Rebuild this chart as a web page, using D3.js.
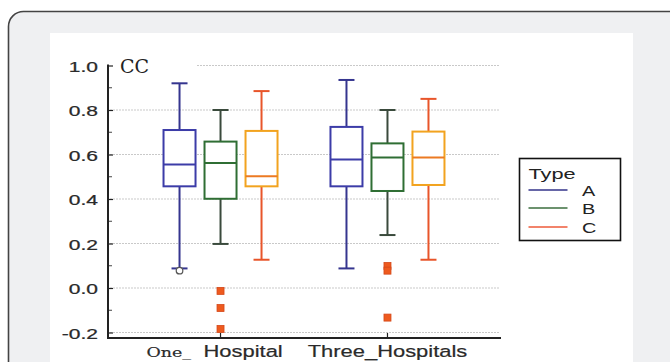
<!DOCTYPE html>
<html>
<head>
<meta charset="utf-8">
<script src="https://cdn.jsdelivr.net/npm/d3@7"></script>
<style>
  body { margin: 0; background: #fff; }
  svg { display: block; }
</style>
</head>
<body>
<svg id="chart" width="670" height="362"></svg>
<script>
// data
var groups = ["One_ Hospital", "Three_Hospitals"];
var types = ["A", "B", "C"];
var yTicks = [-0.2, 0.0, 0.2, 0.4, 0.6, 0.8, 1.0];

// [whiskerLow, q1, median, q3, whiskerHigh] per type, per group
var statsA = [[0.088, 0.457, 0.555, 0.71, 0.92], [0.088, 0.457, 0.577, 0.724, 0.935]];
var statsB = [[0.198, 0.401, 0.562, 0.658, 0.80], [0.238, 0.436, 0.586, 0.65, 0.80]];
var statsC = [[0.127, 0.457, 0.502, 0.706, 0.885], [0.127, 0.463, 0.587, 0.703, 0.85]];
var outliersA = [[0.078], []];
var outliersB = [[-0.013, -0.09, -0.184], [0.099, 0.078, -0.133]];
var outliersC = [[], []];

var boxColor = { A: "#3c3ca8", B: "#2f6e34", C: "#f2a31f" };
var whiskColor = { A: "#35358f", B: "#3a4a3c", C: "#e8552a" };
var legendColor = { A: "#33338a", B: "#3b6e3e", C: "#ee5a3a" };

var sans = "Liberation Sans, Arial, sans-serif";
var serif = "DejaVu Serif, Liberation Serif, serif";

var svg = d3.select("#chart");

// frame
svg.append("rect").attr("x", 8.5).attr("y", 11.5).attr("width", 700).attr("height", 400)
  .attr("rx", 15).style("fill", "#eff0f2").style("stroke", "#444").style("stroke-width", 1.6);
svg.append("rect").attr("x", 50).attr("y", 33).attr("width", 583).attr("height", 340)
  .style("fill", "#fff");

var y = d3.scaleLinear().domain([0, 0.8]).range([288, 110]);
var x = d3.scalePoint().domain(groups).range([108, 500]).padding(0.674);
var inner = d3.scalePoint().domain(types).range([-41, 41]);
var boxW = 32;

var g = svg.append("g");

// grid
g.selectAll("line.grid").data(yTicks).enter().append("line")
  .attr("class", "grid")
  .attr("x1", function(d) { return d === 1.0 ? 197 : 110; })
  .attr("x2", 500)
  .attr("y1", function(d) { return y(d); })
  .attr("y2", function(d) { return y(d); })
  .style("stroke", "#c9c9c9").style("stroke-width", 1).style("stroke-dasharray", "2,1");

// boxes
var allStats = { A: statsA, B: statsB, C: statsC };
var allOut = { A: outliersA, B: outliersB, C: outliersC };
var boxes = [];
groups.forEach(function(gr, gi) {
  types.forEach(function(t) {
    boxes.push({ group: gr, type: t, s: allStats[t][gi], out: allOut[t][gi] });
  });
});

var bx = g.selectAll("g.box").data(boxes).enter().append("g").attr("class", "box")
  .attr("transform", function(d) { return "translate(" + (x(d.group) + inner(d.type)) + ",0)"; });

bx.append("line").attr("x1", 0).attr("x2", 0)
  .attr("y1", function(d) { return y(d.s[0]); }).attr("y2", function(d) { return y(d.s[1]); })
  .style("stroke", function(d) { return whiskColor[d.type]; }).style("stroke-width", 2);
bx.append("line").attr("x1", 0).attr("x2", 0)
  .attr("y1", function(d) { return y(d.s[3]); }).attr("y2", function(d) { return y(d.s[4]); })
  .style("stroke", function(d) { return whiskColor[d.type]; }).style("stroke-width", 2);
bx.selectAll("line.cap").data(function(d) { return [d.s[0], d.s[4]].map(function(v) { return { v: v, type: d.type }; }); })
  .enter().append("line").attr("class", "cap")
  .attr("x1", -8).attr("x2", 8)
  .attr("y1", function(d) { return y(d.v); }).attr("y2", function(d) { return y(d.v); })
  .style("stroke", function(d) { return whiskColor[d.type]; }).style("stroke-width", 2);
bx.append("rect").attr("x", -boxW / 2).attr("width", boxW)
  .attr("y", function(d) { return y(d.s[3]); })
  .attr("height", function(d) { return y(d.s[1]) - y(d.s[3]); })
  .style("fill", "#fff").style("stroke", function(d) { return boxColor[d.type]; }).style("stroke-width", 2);
bx.append("line").attr("x1", -boxW / 2).attr("x2", boxW / 2)
  .attr("y1", function(d) { return y(d.s[2]); }).attr("y2", function(d) { return y(d.s[2]); })
  .style("stroke", function(d) { return d.type === "C" ? "#ec7a22" : boxColor[d.type]; }).style("stroke-width", 2);

// outliers: A as open circle, B as orange squares
bx.filter(function(d) { return d.type === "A"; }).selectAll("circle").data(function(d) { return d.out; })
  .enter().append("circle").attr("cx", 0).attr("cy", function(v) { return y(v); }).attr("r", 3.3)
  .style("fill", "#fff").style("stroke", "#555").style("stroke-width", 1.2);
bx.filter(function(d) { return d.type !== "A"; }).selectAll("rect.out").data(function(d) { return d.out; })
  .enter().append("rect").attr("class", "out")
  .attr("x", -3.5).attr("width", 7).attr("y", function(v) { return y(v) - 3.5; }).attr("height", 7)
  .style("fill", "#ee5a1e").style("stroke", "#d4481a").style("stroke-width", 0.8);

// y axis
var yAxis = d3.axisRight(y).tickValues(yTicks).tickSize(5)
  .tickFormat(function(d) { return d3.format(".1f")(d).replace("\u2212", "-"); });
var ya = g.append("g").attr("transform", "translate(108,0)").call(yAxis);
ya.select(".domain").remove();
ya.selectAll(".tick line").style("stroke", "#222").style("stroke-width", 1.2);
ya.selectAll(".tick text").attr("x", 0).attr("dy", null).attr("y", 5.5)
  .attr("transform", "translate(-10,0) scale(1.45,1)").style("text-anchor", "end")
  .style("font-family", sans).style("font-size", "14.5px").style("fill", "#2a2a2a")
  .style("stroke", "#2a2a2a").style("stroke-width", 0.25);
var minor = d3.range(-0.1, 1.0, 0.2);
g.selectAll("line.minor").data(minor).enter().append("line").attr("class", "minor")
  .attr("x1", 108).attr("x2", 112).attr("y1", function(d) { return y(d); }).attr("y2", function(d) { return y(d); })
  .style("stroke", "#444").style("stroke-width", 1);
g.append("line").attr("x1", 108).attr("x2", 108).attr("y1", y(1.0) - 1).attr("y2", 338)
  .style("stroke", "#222").style("stroke-width", 2);
g.append("text").attr("x", 120).attr("y", y(1.0) + 7).text("CC")
  .style("font-family", serif).style("font-size", "19px").style("fill", "#222");

// x axis
g.append("line").attr("x1", 107).attr("x2", 501).attr("y1", 338).attr("y2", 338)
  .style("stroke", "#222").style("stroke-width", 2);
g.selectAll("line.xt").data(groups).enter().append("line").attr("class", "xt")
  .attr("x1", function(d) { return x(d); }).attr("x2", function(d) { return x(d); })
  .attr("y1", 333).attr("y2", 338).style("stroke", "#222").style("stroke-width", 1.2);
var xs = 1.29;
var xl = g.selectAll("text.xl").data(groups).enter().append("text").attr("class", "xl")
  .style("font-family", sans).style("font-size", "17px").style("fill", "#2a2a2a")
  .style("stroke", "#2a2a2a").style("stroke-width", 0.2);
xl.each(function(d) {
  var t = d3.select(this);
  var i = d.indexOf("_ ");
  if (i >= 0) {
    t.attr("transform", "translate(" + (x(d) - 74) + ",357) scale(" + xs + ",1)");
    t.append("tspan").attr("x", 0).text(d.slice(0, i + 1))
      .style("font-family", serif).style("font-size", "13.5px");
    t.append("tspan").attr("x", 57 / xs).text(d.slice(i + 2));
  } else {
    t.attr("transform", "translate(" + x(d) + ",357) scale(" + xs + ",1)")
      .style("text-anchor", "middle").text(d);
  }
});

// legend
var lg = svg.append("g").attr("transform", "translate(519.5,158.5)");
lg.append("rect").attr("width", 101).attr("height", 82).style("fill", "#fff").style("stroke", "#111").style("stroke-width", 1.6);
lg.append("text").attr("transform", "translate(9,20.5) scale(1.5,1)").text("Type")
  .style("font-family", sans).style("font-size", "14.5px").style("fill", "#222");
var li = lg.selectAll("g.li").data(types).enter().append("g").attr("class", "li")
  .attr("transform", function(d, i) { return "translate(0," + [31.5, 49.5, 68.5][i] + ")"; });
li.append("line").attr("x1", 9).attr("x2", 48).style("stroke", function(d) { return legendColor[d]; }).style("stroke-width", 1.6);
li.append("text").attr("transform", "translate(62.5,5.5) scale(1.37,1)").text(function(d) { return d; })
  .style("font-family", sans).style("font-size", "14.5px").style("fill", "#222");
</script>
</body>
</html>
